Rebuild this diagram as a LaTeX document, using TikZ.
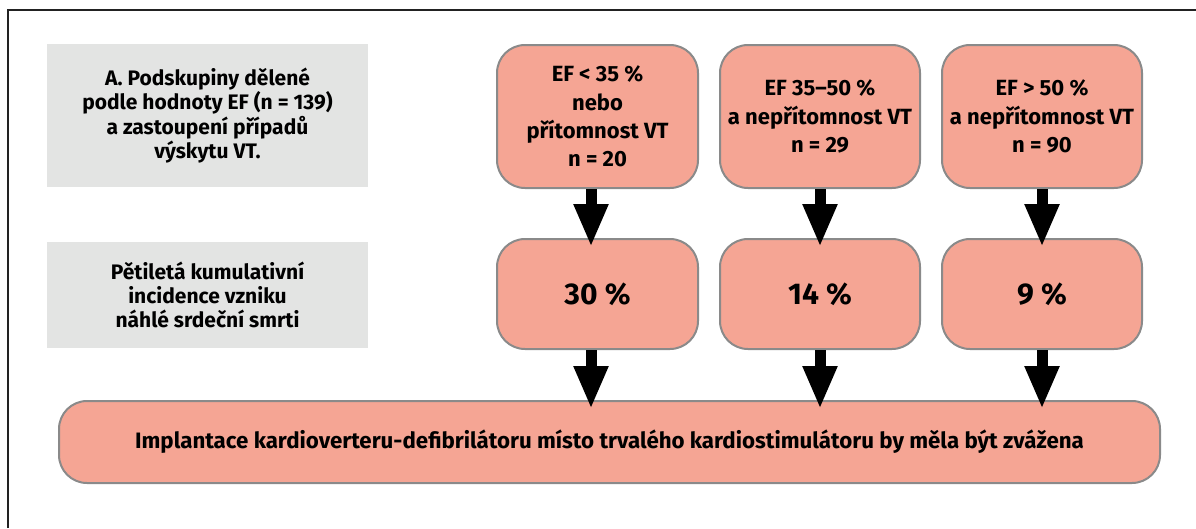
\documentclass[tikz,border=0pt]{standalone}
\usepackage{fontspec}
\setmainfont{Fira Sans}
\usetikzlibrary{arrows.meta,calc}
\definecolor{pinkfill}{HTML}{F5A594}
\definecolor{boxborder}{HTML}{8A8A8A}
\definecolor{grayfill}{HTML}{E3E4E3}
\definecolor{framecol}{HTML}{222222}
\begin{document}
\begin{tikzpicture}[x=1pt,y=-1pt,
  pinkbox/.style={draw=boxborder, line width=2pt, fill=pinkfill, rounded corners=28pt,
    inner sep=0pt, align=center, text=black, font=\bfseries\fontsize{22}{28.3}\selectfont},
  graybox/.style={fill=grayfill, inner sep=0pt, align=center, text=black,
    font=\bfseries\fontsize{21}{24.4}\selectfont},
  bigarrow/.style={line width=11pt, -{Triangle[width=32pt,length=43pt]}},
  pct/.style={font=\bfseries\fontsize{30}{36}\selectfont},
  wide/.style={font=\bfseries\fontsize{22.3}{28}\selectfont}
]
\useasboundingbox (0,0) rectangle (1196,528);
% frame
\draw[framecol, line width=1.5pt] (8,528) -- (8,10) -- (1196,10);
% gray label boxes
\node[graybox, minimum width=321pt, minimum height=143pt] (g1) at (207.5,115.5)
  {A. Podskupiny dělené\\podle hodnoty EF (n = 139)\\a zastoupení případů\\výskytu VT.};
\node[graybox, minimum width=321pt, minimum height=106pt] (g2) at (207.5,295)
  {Pětiletá kumulativní\\incidence vzniku\\náhlé srdeční smrti};
% top boxes
\node[pinkbox, minimum width=201pt, minimum height=143pt] (p1) at (597.5,116.5)
  {EF < 35 \%\\nebo\\přítomnost VT\\n = 20};
\node[pinkbox, minimum width=200pt, minimum height=143pt] (p2) at (820,116.5)
  {EF 35–50 \%\\a nepřítomnost VT\\n = 29};
\node[pinkbox, minimum width=200pt, minimum height=143pt] (p3) at (1042,116.5)
  {EF > 50 \%\\a nepřítomnost VT\\n = 90};
% middle boxes
\node[pinkbox, pct, minimum width=201pt, minimum height=110pt] (m1) at (597.5,294) {30 \%};
\node[pinkbox, pct, minimum width=200pt, minimum height=110pt] (m2) at (820,294) {14 \%};
\node[pinkbox, pct, minimum width=200pt, minimum height=110pt] (m3) at (1042,294) {9 \%};
% bottom box
\node[pinkbox, wide, minimum width=1101pt, minimum height=82pt] (b) at (609.5,442)
  {Implantace kardioverteru-defibrilátoru místo trvalého kardiostimulátoru by měla být zvážena};
% arrows
\draw[bigarrow] ($(p1.south)+(-6.5,0)$) -- ($(m1.north)+(-6.5,9)$);
\draw[bigarrow] (p2.south) -- ($(m2.north)+(0,9)$);
\draw[bigarrow] (p3.south) -- ($(m3.north)+(0,9)$);
\draw[bigarrow] ($(m1.south)+(-6.5,0)$) -- ($(m1.south |- b.north)+(-6.5,9)$);
\draw[bigarrow] (m2.south) -- ($(m2.south |- b.north)+(0,9)$);
\draw[bigarrow] (m3.south) -- ($(m3.south |- b.north)+(0,9)$);
\end{tikzpicture}
\end{document}
